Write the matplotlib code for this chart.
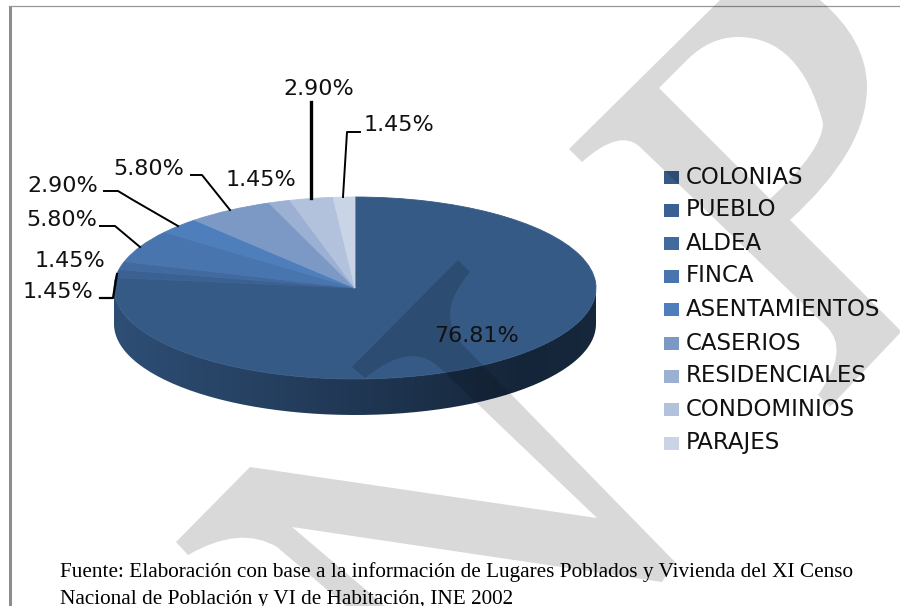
import numpy as np
import matplotlib
matplotlib.use('Agg')
import matplotlib.pyplot as plt
from matplotlib.path import Path
from matplotlib.patches import PathPatch, Rectangle

categories = ['COLONIAS', 'PUEBLO', 'ALDEA', 'FINCA', 'ASENTAMIENTOS',
              'CASERIOS', 'RESIDENCIALES', 'CONDOMINIOS', 'PARAJES']
percents = [76.81, 1.45, 1.45, 5.80, 2.90, 5.80, 1.45, 2.90, 1.45]
colors = ['#355a85', '#3b6193', '#426a9f', '#4875ae', '#4e7fbc',
          '#7c99c6', '#9bb0d3', '#b2c2dd', '#c9d4e6']
legend_rows = [177, 210, 243, 276, 309, 343, 376, 409, 443]

# label text, centre position in pixels
label_pos = [(476, 336), (58, 292), (70, 261), (62, 220), (63, 186),
             (149, 169), (261, 180), (319, 89), (399, 125)]

# leader lines in pixels, with width
leaders = [
    ([117, 113, 100], [274, 298, 298], 1.6),
    ([140, 115, 100], [247, 226, 226], 1.4),
    ([178, 133, 118, 104], [226, 200, 191, 191], 1.4),
    ([230, 202, 191], [210, 175, 175], 1.4),
    ([311, 311], [198, 102], 2.4),
    ([343, 347, 360], [197, 132, 132], 1.4),
]

source_lines = ['Fuente: Elaboración con base a la información de Lugares Poblados y Vivienda del XI Censo',
                'Nacional de Población y VI de Habitación, INE 2002']

W, H = 900, 606
CX, RX, TOP, BOTTOM, DEPTH = 355, 241, 197, 379, 36
CY = (TOP + BOTTOM) / 2
RY = (BOTTOM - TOP) / 2

fig = plt.figure(figsize=(9, 6.06), dpi=100)
fig.patch.set_facecolor('white')


def pixel_axes(z):
    a = fig.add_axes([0, 0, 1, 1], zorder=z)
    a.set_xlim(0, W)
    a.set_ylim(H, 0)
    a.axis('off')
    a.patch.set_alpha(0)
    return a


# base layer: side of the pie, legend swatches, frame
base = pixel_axes(1)
t = np.linspace(0, np.pi, 120)
xs = CX + RX * np.cos(t)
ys = CY + RY * np.sin(t)
side_v = list(zip(xs, ys + DEPTH)) + list(zip(xs[::-1], ys[::-1]))
side = PathPatch(Path(side_v + [side_v[0]]), fc='none', ec='none')
base.add_patch(side)
shade = np.interp(np.linspace(0, 1, 300), [0, 0.5, 0.85, 1], [0, 0.55, 1, 0.95])
dark = np.array([0x15, 0x25, 0x39]) / 255
light = np.array([0x2e, 0x4e, 0x75]) / 255
grad = (light + shade[:, None] * (dark - light))[None, :, :]
im = base.imshow(grad, extent=[CX - RX, CX + RX, BOTTOM + DEPTH, CY], aspect='auto')
im.set_clip_path(side)
base.set_xlim(0, W)
base.set_ylim(H, 0)

for y, col in zip(legend_rows, colors):
    base.add_patch(Rectangle((664, y - 6.5), 15, 13, fc=col, ec='none'))

base.add_patch(Rectangle((9, 6), 3, H - 6, fc='#8c8c8c', ec='none'))
base.plot([9, W], [6, 6], color='#999999', lw=0.9)

# top of the pie
pie_ax = fig.add_axes([(CX - RX) / W, (H - BOTTOM) / H, 2 * RX / W, 2 * RY / H], zorder=2)
wedges, _ = pie_ax.pie(percents, colors=colors, startangle=90, counterclock=False, radius=1)
for w in wedges:
    w.set_edgecolor(w.get_facecolor())
    w.set_linewidth(0.6)
pie_ax.set_aspect('auto')
pie_ax.set_xlim(-1, 1)
pie_ax.set_ylim(-1, 1)
pie_ax.axis('off')

# overlay: watermark, leaders, text
over = pixel_axes(3)
M, L, C, Z = Path.MOVETO, Path.LINETO, Path.CURVE3, Path.CLOSEPOLY
wm = [
    # letter at the top right
    (M, 569, 149), (L, 720, 0), (L, 820, 0), (C, 867, 40), (C, 867, 87),
    (C, 867, 150), (C, 790, 220), (L, 900, 330), (L, 900, 333), (L, 830, 407),
    (L, 818, 395), (C, 850, 350), (C, 827, 327), (L, 640, 147), (C, 620, 128),
    (C, 582, 162), (Z, 569, 149),
    # its counter
    (M, 659, 88), (L, 770, 199), (C, 823, 150), (C, 823, 123), (C, 800, 37),
    (C, 738, 37), (C, 710, 37), (C, 687, 60), (Z, 659, 88),
    # letter at the centre
    (M, 458, 260), (L, 352, 367), (L, 365, 378), (C, 411, 340), (C, 440, 368),
    (L, 597, 518), (L, 250, 467), (L, 176, 542), (L, 188, 555), (C, 240, 525),
    (C, 277, 547), (L, 346, 606), (L, 385, 606), (L, 292, 527), (L, 662, 582),
    (L, 675, 562), (L, 461, 343), (C, 435, 312), (C, 470, 272), (Z, 458, 260),
]
over.add_patch(PathPatch(Path([(x, y) for _, x, y in wm], [c for c, _, _ in wm]),
                         fc='black', alpha=0.15, ec='none'))

for lx, ly, lw in leaders:
    over.plot(lx, ly, color='black', lw=lw, solid_joinstyle='round')

for p, (x, y) in zip(percents, label_pos):
    over.text(x, y, f'{p:.2f}%', fontsize=16, ha='center', va='center', color='#111111')

for y, name in zip(legend_rows, categories):
    over.text(686, y, name, fontsize=16.5, ha='left', va='center', color='#111111')

for y, line in zip([577, 604], source_lines):
    over.text(60, y, line, family='Liberation Serif', fontsize=15.35, ha='left',
              va='baseline', color='black')

fig.savefig('out.png', dpi=100)
